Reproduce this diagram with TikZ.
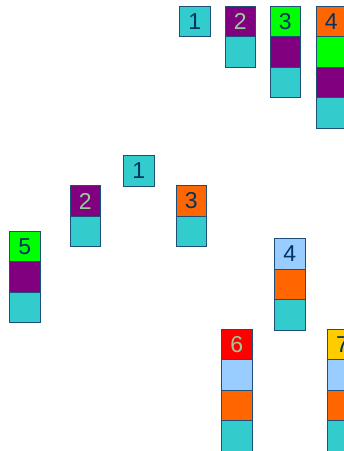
\documentclass[tikz,border=0pt]{standalone}
\usepackage{fontspec}
\setmainfont{Liberation Sans}
\definecolor{cyn}{HTML}{33CCCC}
\definecolor{pur}{HTML}{800080}
\definecolor{grn}{HTML}{00FF00}
\definecolor{org}{HTML}{FF6600}
\definecolor{rd}{HTML}{FF0000}
\definecolor{lb}{HTML}{99CCFF}
\definecolor{yl}{HTML}{FFCC00}
\definecolor{navy}{HTML}{003366}
\definecolor{pale}{HTML}{99CC99}
\definecolor{bd}{HTML}{1F4E79}
\begin{document}
\begin{tikzpicture}[x=1pt,y=-1pt,
  cell/.style={draw=bd, line width=0.8pt, minimum width=30.5pt, minimum height=30.5pt,
    inner sep=0pt, font=\fontsize{23}{23}\selectfont, text=navy},
  lt/.style={text=pale}]
\useasboundingbox (0,0) rectangle (344,451);
\clip (0,0) rectangle (344,451);
% top row
\node[cell,fill=cyn] (a1) at (194.7,21.25) {1};
\node[cell,fill=pur,lt] (a2) at (240.3,21.25) {2};
\node[cell,fill=cyn] (a2b) at (240.3,51.75) {};
\node[cell,fill=grn] (a3) at (285.3,21.25) {3};
\node[cell,fill=pur] (a3b) at (285.3,51.75) {};
\node[cell,fill=cyn] (a3c) at (285.3,82.25) {};
\node[cell,fill=org] (a4) at (331.2,21.25) {4};
\node[cell,fill=grn] (a4b) at (331.2,51.75) {};
\node[cell,fill=pur] (a4c) at (331.2,82.25) {};
\node[cell,fill=cyn] (a4d) at (331.2,112.75) {};
% tree
\node[cell,fill=cyn] (b1) at (138.7,171) {1};
\node[cell,fill=pur,lt] (b2) at (85.3,201) {2};
\node[cell,fill=cyn] (b2b) at (85.3,231.5) {};
\node[cell,fill=org] (b3) at (191.3,201) {3};
\node[cell,fill=cyn] (b3b) at (191.3,231.5) {};
\node[cell,fill=grn] (b5) at (24.7,246.5) {5};
\node[cell,fill=pur] (b5b) at (24.7,277) {};
\node[cell,fill=cyn] (b5c) at (24.7,307.5) {};
\node[cell,fill=lb] (b4) at (289.7,254) {4};
\node[cell,fill=org] (b4b) at (289.7,284.5) {};
\node[cell,fill=cyn] (b4c) at (289.7,315) {};
\node[cell,fill=rd,lt] (b6) at (236.7,344.5) {6};
\node[cell,fill=lb] (b6b) at (236.7,375) {};
\node[cell,fill=org] (b6c) at (236.7,405.5) {};
\node[cell,fill=cyn] (b6d) at (236.7,436) {};
\node[cell,fill=yl] (b7) at (342.5,344.5) {7};
\node[cell,fill=lb] (b7b) at (342.5,375) {};
\node[cell,fill=org] (b7c) at (342.5,405.5) {};
\node[cell,fill=cyn] (b7d) at (342.5,436) {};
\end{tikzpicture}
\end{document}
